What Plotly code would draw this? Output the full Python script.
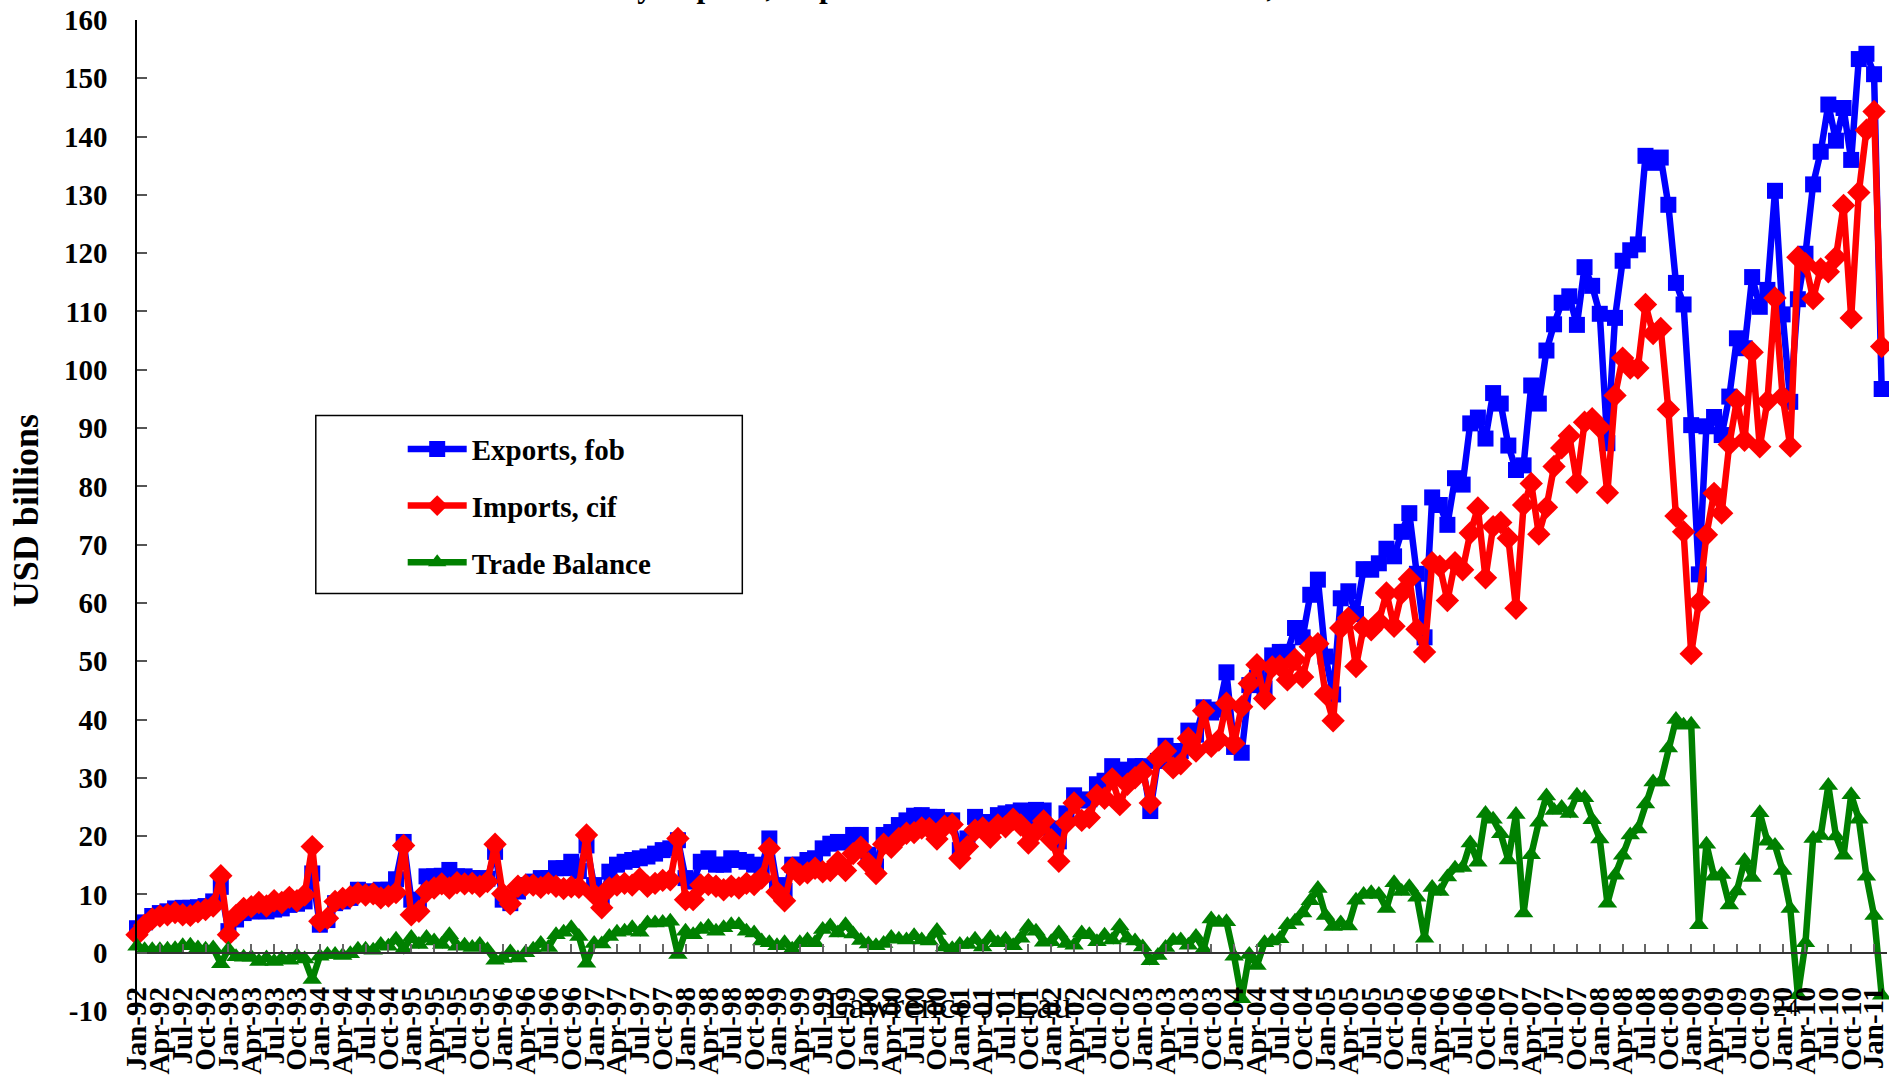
import plotly.graph_objects as go

# ---- data (USD billions, monthly, Jan-1992 .. Feb-2011) ----
MONTH_NAMES = ["Jan", "Feb", "Mar", "Apr", "May", "Jun",
               "Jul", "Aug", "Sep", "Oct", "Nov", "Dec"]
YEARS = list(range(1992, 2012))
months = [f"{m}-{y % 100:02d}" for y in YEARS for m in MONTH_NAMES][:230]

exports = [
    4.2, 5.2, 6.3, 6.8, 7.1, 7.6, 7.7, 7.7, 7.8, 8.0, 8.8, 11.3,            # 1992
    3.7, 5.7, 6.8, 7.1, 7.1, 7.1, 7.4, 7.6, 8.2, 8.4, 8.8, 13.6,            # 1993
    4.8, 5.6, 8.5, 8.8, 9.4, 10.8, 10.5, 10.5, 10.8, 10.8, 12.6, 19.0,      # 1994
    9.1, 8.5, 13.1, 13.1, 13.2, 14.2, 13.1, 13.1, 12.8, 12.8, 12.7, 17.3,   # 1995
    9.1, 8.5, 10.5, 11.6, 12.2, 12.8, 12.8, 14.5, 14.5, 15.6, 14.0, 18.4,   # 1996
    11.6, 9.2, 13.9, 15.1, 15.6, 15.9, 16.2, 16.5, 17.0, 17.6, 17.9, 19.3,  # 1997
    12.8, 12.2, 15.6, 16.2, 15.1, 15.1, 16.2, 15.9, 15.6, 15.1, 14.8, 19.6, # 1998
    11.6, 10.6, 15.1, 15.1, 15.9, 16.2, 17.9, 18.7, 19.0, 18.9, 20.2, 20.2, # 1999
    16.8, 14.8, 20.2, 20.7, 21.9, 22.7, 23.5, 23.6, 23.3, 23.3, 22.7, 22.7, # 2000
    17.6, 19.6, 23.3, 22.4, 22.4, 23.6, 23.9, 24.1, 24.4, 23.3, 24.5, 24.4, # 2001
    21.3, 19.1, 23.9, 27.0, 26.1, 26.3, 28.9, 29.5, 32.0, 30.0, 31.4, 32.0, # 2002
    32.0, 24.3, 32.9, 35.5, 33.8, 34.6, 38.1, 37.4, 42.1, 41.2, 41.7, 48.1, # 2003
    35.3, 34.3, 45.9, 47.2, 45.3, 51.0, 51.6, 51.6, 55.7, 54.1, 61.4, 64.0, # 2004
    50.8, 44.3, 60.8, 62.0, 58.1, 65.8, 65.7, 66.8, 69.3, 68.0, 72.2, 75.4, # 2005
    65.0, 54.1, 78.1, 76.8, 73.4, 81.4, 80.3, 90.8, 91.8, 88.2, 96.0, 94.2, # 2006
    87.0, 82.8, 83.6, 97.3, 94.2, 103.3, 107.8, 111.5, 112.6, 107.7, 117.6, 114.4,    # 2007
    109.6, 87.4, 108.9, 118.7, 120.5, 121.5, 136.7, 135.5, 136.4, 128.3, 114.9, 111.2, # 2008
    90.5, 64.9, 90.3, 91.9, 88.8, 95.4, 105.4, 103.7, 115.9, 110.8, 113.7, 130.7,     # 2009
    109.5, 94.5, 112.1, 119.9, 131.8, 137.4, 145.5, 139.3, 144.9, 136.0, 153.3, 154.2, # 2010
    150.7, 96.7,                                                            # 2011
]

imports = [
    3.1, 4.7, 5.8, 6.3, 6.5, 6.9, 6.5, 6.4, 7.0, 7.4, 8.0, 13.2,            # 1992
    3.1, 6.4, 7.6, 7.9, 8.6, 8.0, 8.9, 8.6, 9.5, 8.9, 9.9, 18.2,            # 1993
    5.4, 5.9, 8.8, 9.3, 9.6, 10.2, 9.9, 10.1, 9.4, 9.7, 10.3, 18.4,         # 1994
    6.5, 7.1, 10.5, 11.1, 11.8, 11.1, 12.0, 11.8, 11.9, 11.4, 12.2, 18.6,   # 1995
    10.1, 8.4, 11.4, 11.6, 11.6, 11.2, 11.9, 11.4, 11.0, 11.3, 11.2, 20.2,  # 1996
    10.0, 7.7, 11.1, 11.6, 11.9, 11.6, 12.7, 11.4, 11.9, 12.4, 12.5, 19.6,  # 1997
    9.1, 9.1, 11.6, 11.7, 11.4, 10.8, 11.4, 11.1, 11.9, 11.7, 12.8, 17.9,   # 1998
    10.4, 8.9, 14.5, 13.4, 13.7, 14.5, 13.9, 14.1, 15.6, 14.1, 17.0, 18.1,  # 1999
    15.3, 13.6, 18.6, 18.1, 19.6, 20.5, 20.6, 21.4, 21.3, 19.5, 21.7, 22.0, # 2000
    16.2, 18.2, 21.0, 21.4, 19.8, 21.9, 21.6, 22.9, 21.9, 18.8, 20.8, 22.6, # 2001
    19.4, 15.7, 22.3, 25.7, 22.7, 23.2, 27.0, 26.5, 29.8, 25.4, 28.9, 30.0, # 2002
    31.0, 25.7, 33.4, 34.6, 31.7, 32.4, 36.8, 34.6, 41.5, 35.4, 36.5, 42.8, # 2003
    35.9, 42.2, 46.2, 49.4, 43.6, 49.0, 49.2, 46.8, 50.3, 47.3, 52.5, 53.0, # 2004
    44.4, 39.8, 55.7, 57.4, 49.1, 55.8, 55.4, 56.8, 61.7, 56.0, 61.7, 64.1, # 2005
    55.5, 51.6, 66.9, 66.3, 60.4, 66.9, 65.7, 72.0, 76.3, 64.3, 73.1, 73.8, # 2006
    71.1, 59.1, 76.8, 80.5, 71.8, 76.4, 83.4, 86.6, 88.7, 80.7, 91.0, 91.6, # 2007
    90.1, 78.9, 95.6, 102.0, 100.3, 100.3, 111.2, 106.2, 107.1, 93.2, 74.9, 72.2,     # 2008
    51.3, 60.1, 71.7, 78.8, 75.4, 87.2, 94.8, 87.9, 103.0, 86.8, 94.6, 112.3,         # 2009
    95.4, 86.9, 119.3, 118.2, 112.2, 117.3, 116.8, 119.3, 128.2, 108.9, 130.4, 141.1, # 2010
    144.3, 104.0,                                                           # 2011
]

balance = [
    1.1, 0.5, 0.5, 0.5, 0.6, 0.7, 1.2, 1.3, 0.8, 0.6, 0.8, -1.9,            # 1992
    0.6, -0.7, -0.8, -0.8, -1.5, -0.9, -1.5, -1.0, -1.3, -0.5, -1.1, -4.6,  # 1993
    -0.6, -0.3, -0.3, -0.5, -0.2, 0.6, 0.6, 0.4, 1.4, 1.1, 2.3, 0.6,        # 1994
    2.6, 1.4, 2.6, 2.0, 1.4, 3.1, 1.1, 1.3, 0.9, 1.4, 0.5, -1.3,            # 1995
    -1.0, 0.1, -0.9, 0.0, 0.6, 1.6, 0.9, 3.1, 3.5, 4.3, 2.8, -1.8,          # 1996
    1.6, 1.5, 2.8, 3.5, 3.7, 4.3, 3.5, 5.1, 5.1, 5.2, 5.4, -0.3,            # 1997
    3.7, 3.1, 4.0, 4.5, 3.7, 4.3, 4.8, 4.8, 3.7, 3.4, 2.0, 1.7,             # 1998
    1.2, 1.7, 0.6, 1.7, 2.2, 1.7, 4.0, 4.6, 3.4, 4.8, 3.2, 2.1,             # 1999
    1.5, 1.2, 1.6, 2.6, 2.3, 2.2, 2.9, 2.2, 2.0, 3.8, 1.0, 0.7,             # 2000
    1.4, 1.4, 2.3, 1.0, 2.6, 1.7, 2.3, 1.2, 2.5, 4.5, 3.7, 1.8,             # 2001
    1.9, 3.4, 1.6, 1.3, 3.4, 3.1, 1.9, 3.0, 2.2, 4.6, 2.5, 2.0,             # 2002
    1.0, -1.4, -0.5, 0.9, 2.1, 2.2, 1.3, 2.8, 0.6, 5.8, 5.2, 5.3,           # 2003
    -0.6, -7.9, -0.3, -2.2, 1.7, 2.0, 2.4, 4.8, 5.4, 6.8, 8.9, 11.0,        # 2004
    6.4, 4.5, 5.1, 4.6, 9.0, 10.0, 10.3, 10.0, 7.6, 12.0, 10.5, 11.3,       # 2005
    9.5, 2.5, 11.2, 10.5, 13.0, 14.5, 14.6, 18.8, 15.5, 23.9, 22.9, 20.4,   # 2006
    15.9, 23.7, 6.8, 16.8, 22.4, 26.9, 24.4, 24.9, 23.9, 27.0, 26.6, 22.8,  # 2007
    19.5, 8.5, 13.3, 16.7, 20.2, 21.2, 25.5, 29.3, 29.3, 35.1, 40.0, 39.0,  # 2008
    39.2, 4.8, 18.6, 13.1, 13.4, 8.2, 10.6, 15.8, 12.9, 24.0, 19.1, 18.4,   # 2009
    14.1, 7.6, -7.2, 1.7, 19.6, 20.1, 28.7, 20.0, 16.7, 27.1, 22.9, 13.1,   # 2010
    6.4, -7.3,                                                              # 2011
]

x_tick_labels = months[::3]
y_tick_values = [-10, 0, 10, 20, 30, 40, 50, 60, 70, 80, 90, 100,
                 110, 120, 130, 140, 150, 160]
y_tick_labels = [str(v) for v in y_tick_values]

# ---- page geometry ----
FONT = "Liberation Serif, Times New Roman, serif"
W, H = 1889, 1075
ML, MR, MT, MB = 137, 0, 20, 58
PW, PH = W - ML - MR, H - MT - MB


def fx(px):
    """pixel column -> paper x"""
    return (px - ML) / PW


def fy(py):
    """pixel row -> paper y"""
    return (H - MB - py) / PH


fig = go.Figure()

series = [
    ("Exports, fob", exports, "#0000FF", "square", 16),
    ("Imports, cif", imports, "#FF0000", "diamond", 18),
    ("Trade Balance", balance, "#008000", "triangle-up", 17),
]
for name, values, color, symbol, size in series:
    fig.add_trace(go.Scatter(
        x=months, y=values, name=name, legendgroup=name,
        mode="lines+markers",
        line=dict(color=color, width=6.5),
        marker=dict(symbol=symbol, size=size, color=color),
        cliponaxis=False,
    ))

bold = dict(family=FONT, size=29, color="black", weight="bold")

fig.update_layout(
    width=W, height=H,
    margin=dict(l=ML, r=MR, t=MT, b=MB, pad=0),
    paper_bgcolor="white", plot_bgcolor="white",
    showlegend=True,
    legend=dict(
        x=fx(403), y=fy(426), xanchor="left", yanchor="top",
        font=bold, bgcolor="rgba(0,0,0,0)", borderwidth=0,
        itemwidth=59, traceorder="grouped", tracegroupgap=16,
    ),
    xaxis=dict(
        type="category", range=[0, 229.7],
        anchor="free", position=10 / 170,
        showline=True, linecolor="#333333", linewidth=1.5,
        tickmode="array", tickvals=x_tick_labels, ticktext=x_tick_labels,
        ticks="inside", ticklen=8, tickwidth=1.5, tickcolor="#666666",
        tickangle=-90, tickfont=bold,
        ticklabelstandoff=22, ticklabeloverflow="allow",
        showgrid=False, zeroline=False,
    ),
    yaxis=dict(
        range=[-10, 160],
        tickmode="array", tickvals=y_tick_values, ticktext=y_tick_labels,
        showline=True, linecolor="black", linewidth=1.5,
        ticks="inside", ticklen=10, tickwidth=1.5, tickcolor="#555555",
        tickfont=bold, ticklabelstandoff=22,
        showgrid=False, zeroline=False,
    ),
    shapes=[
        dict(type="rect", xref="paper", yref="paper",
             x0=fx(316), x1=fx(743), y0=fy(597), y1=fy(418),
             line=dict(color="black", width=1.5), fillcolor="white",
             layer="below"),
    ],
    annotations=[
        dict(text="Monthly Exports, Imports and Trade Balance of China, 1992-2011",
             xref="paper", yref="paper", x=fx(537), y=fy(5.7),
             xanchor="left", yanchor="bottom", showarrow=False,
             font=dict(family=FONT, size=31, color="black", weight="bold")),
        dict(text="USD billions", textangle=-90,
             xref="paper", yref="paper", x=fx(26), y=fy(514),
             xanchor="center", yanchor="middle", showarrow=False,
             font=dict(family=FONT, size=36, color="black", weight="bold")),
        dict(text="Lawrence J. Lau",
             xref="paper", yref="paper", x=fx(950), y=fy(1034),
             xanchor="center", yanchor="bottom", showarrow=False,
             font=dict(family=FONT, size=37, color="black")),
        dict(text="24",
             xref="paper", yref="paper", x=fx(1788), y=fy(1030),
             xanchor="center", yanchor="bottom", showarrow=False,
             font=dict(family=FONT, size=26, color="black")),
    ],
)

fig.write_html("out.html")
